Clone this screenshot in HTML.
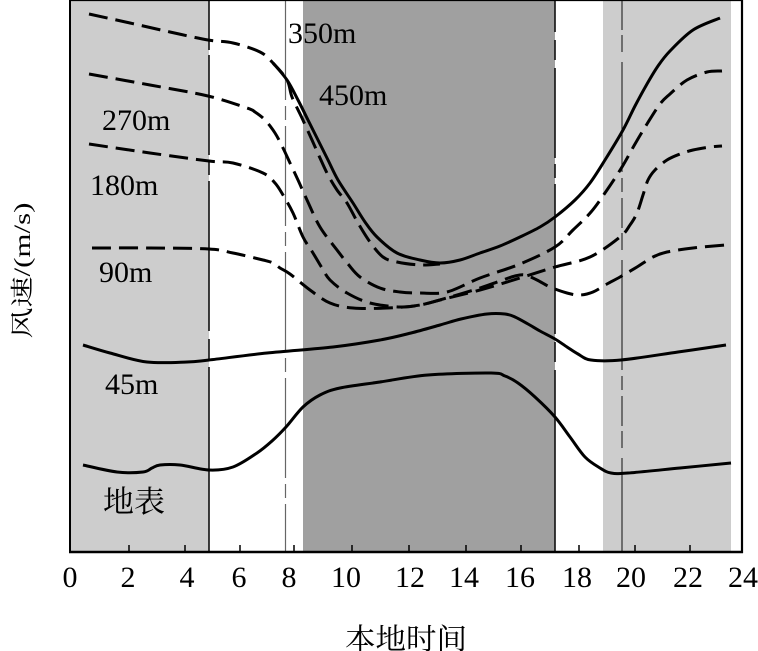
<!DOCTYPE html>
<html>
<head>
<meta charset="utf-8">
<style>
  html,body{margin:0;padding:0;background:#fff;}
  svg{display:block;}
  .lab{font-family:"Liberation Serif","Noto Serif CJK SC",serif;fill:#000;}
</style>
</head>
<body>
<svg id="chart" width="758" height="651" viewBox="0 0 758 651" xmlns="http://www.w3.org/2000/svg">
  <!-- background bands -->
  <rect x="0" y="0" width="758" height="651" fill="#fff"/>
  <rect x="70" y="0" width="139" height="552" fill="#cdcdcd"/>
  <rect x="303" y="0" width="252" height="552" fill="#a0a0a0"/>
  <rect x="603" y="0" width="128" height="552" fill="#cdcdcd"/>

  <!-- vertical dash-dot lines -->
  <line x1="209" y1="0" x2="209" y2="552" stroke="#111" stroke-width="1.6" stroke-dasharray="50 5 100 6 14 6 150 8 20 8 200"/>
  <line x1="555" y1="0" x2="555" y2="552" stroke="#111" stroke-width="1.6" stroke-dasharray="32 8 20 8 90 6 14 6 150 8 20 8 200"/>
  <line x1="285.5" y1="0" x2="285.5" y2="552" stroke="#666" stroke-width="1.2" stroke-dasharray="100 6 14 6"/>
  <line x1="622" y1="0" x2="622" y2="552" stroke="#222" stroke-width="1.1" stroke-dasharray="30 5 17 10 110 6 14 6"/>

  <g fill="none" stroke="#000" stroke-width="3" stroke-linejoin="round" stroke-linecap="butt">
    <!-- 350m dashed -->
    <polyline class="sm" stroke-dasharray="19 8" points="89,14 130,23 170,32 208,40 233,43 260,52 273,63 287,80 292,97 302,118 312,140 320,158 328,175 337,190 347,203 358,223 370,242 383,257 397,262 420,265 440,264"/>
    <!-- 450m solid -->
    <polyline class="sm" points="273,63 287,80 298,100 308,120 318,140 328,160 338,180 353,203 365,222 377,237 397,253 420,260 440,263 460,260 480,253 500,246 520,237 540,227 555,217 575,200 590,183 605,160 623,130 635,106 647,84 658,66 670,51 693,30 720,18"/>
    <!-- 270m dashed -->
    <polyline class="sm" stroke-dasharray="19 8" points="89,74 150,85 208,96 247,108 255,112 265,120 275,133 283,148 290,163 298,180 307,200 320,227 337,250 348,264 360,277 380,288 400,292 420,293 447,292 480,278 520,264 555,247 573,230 591,212 607,190 622,167 635,144 647,124 660,104 670,94 687,80 707,72 722,71"/>
    <!-- 180m dashed -->
    <polyline class="sm" stroke-dasharray="19 8" points="89,144 150,153 209,161 233,163 263,173 275,183 283,195 293,213 303,237 313,253 322,268 330,280 347,293 370,303 400,307 420,305 440,300 480,290 520,278 555,267 590,257 620,237 630,225 637,213 643,195 648,180 655,170 667,160 680,154 693,150 710,147 722,146"/>
    <!-- 90m dashed -->
    <polyline class="sm" stroke-dasharray="19 8" points="92,248 150,248 209,249 233,253 263,260 273,263 280,268 290,274 310,290 330,303 353,308 387,308 420,305 450,297 480,288 500,281 515,276 525,275 537,280 550,287 567,293 580,295 593,292 607,284 620,277 637,267 653,257 667,252 693,248 725,245"/>
    <!-- 45m solid -->
    <polyline class="sm" points="83,345 110,353 147,362 187,362 209,360 267,353 333,347 380,340 411,333 440,325 461,319 487,314 505,314 515,317 528,324 540,331 555,339 567,347 578,354 591,360 621,360 678,352 726,345"/>
    <!-- surface solid -->
    <polyline class="sm" points="83,465 117,472 143,472 152,468 160,465 180,465 209,470 233,467 257,453 272,441 286,427 303,407 320,395 340,388 380,382 428,375 491,373 505,376 518,383 535,397 555,417 570,437 585,457 600,468 611,473 628,473 680,468 731,463"/>
  </g>

  <!-- frame -->
  <line x1="70" y1="0" x2="70" y2="553" stroke="#000" stroke-width="2"/>
  <line x1="69" y1="552" x2="743" y2="552" stroke="#000" stroke-width="2.5"/>
  <line x1="70" y1="0.5" x2="742" y2="0.5" stroke="#000" stroke-width="1.2"/>
  <line x1="742" y1="0" x2="742" y2="553" stroke="#000" stroke-width="2.2"/>

  <!-- ticks -->
  <g stroke="#000" stroke-width="1.5">
    <line x1="129" y1="545" x2="129" y2="552"/>
    <line x1="185" y1="545" x2="185" y2="552"/>
    <line x1="240" y1="545" x2="240" y2="552"/>
    <line x1="294" y1="545" x2="294" y2="552"/>
    <line x1="352" y1="545" x2="352" y2="552"/>
    <line x1="409" y1="545" x2="409" y2="552"/>
    <line x1="466" y1="545" x2="466" y2="552"/>
    <line x1="521" y1="545" x2="521" y2="552"/>
    <line x1="579" y1="545" x2="579" y2="552"/>
    <line x1="635" y1="545" x2="635" y2="552"/>
    <line x1="690" y1="545" x2="690" y2="552"/>
  </g>

  <!-- tick labels -->
  <g class="lab" font-size="30" text-anchor="middle">
    <text x="70" y="587">0</text>
    <text x="128" y="587">2</text>
    <text x="187" y="587">4</text>
    <text x="239" y="587">6</text>
    <text x="289" y="587">8</text>
    <text x="346" y="587">10</text>
    <text x="410" y="587">12</text>
    <text x="464" y="587">14</text>
    <text x="520" y="587">16</text>
    <text x="577" y="587">18</text>
    <text x="631" y="587">20</text>
    <text x="688" y="587">22</text>
    <text x="743" y="587">24</text>
  </g>

  <!-- series labels -->
  <g class="lab" font-size="30">
    <text x="288" y="43">350m</text>
    <text x="319" y="105">450m</text>
    <text x="102" y="130">270m</text>
    <text x="90" y="195">180m</text>
    <text x="99" y="282">90m</text>
    <text x="105" y="394">45m</text>
    <text x="103" y="512" font-family="'Noto Serif CJK SC','Noto Sans CJK SC',serif" textLength="62" lengthAdjust="spacingAndGlyphs">地表</text>
  </g>

  <!-- axis titles -->
  <text class="lab" x="345" y="649" font-size="29" font-family="'Noto Serif CJK SC','Noto Sans CJK SC',serif" textLength="122" lengthAdjust="spacingAndGlyphs">本地时间</text>
  <text class="lab" transform="translate(30,270.5) rotate(-90)" x="-68" y="0" font-size="23" textLength="136" lengthAdjust="spacingAndGlyphs">风速/(m/s)</text>
</svg>
<script>
(function(){
  var NS = "http://www.w3.org/2000/svg";
  var pls = document.querySelectorAll("polyline.sm");
  for (var i = 0; i < pls.length; i++) {
    var pl = pls[i];
    var raw = pl.getAttribute("points").trim().split(/\s+/);
    var p = raw.map(function(s){ var a = s.split(","); return [parseFloat(a[0]), parseFloat(a[1])]; });
    if (p.length < 3) continue;
    var d = "M" + p[0][0] + "," + p[0][1];
    for (var k = 0; k < p.length - 1; k++) {
      var p0 = p[k > 0 ? k - 1 : 0], p1 = p[k], p2 = p[k + 1], p3 = p[k + 2 < p.length ? k + 2 : p.length - 1];
      var c1x = p1[0] + (p2[0] - p0[0]) / 6, c1y = p1[1] + (p2[1] - p0[1]) / 6;
      var c2x = p2[0] - (p3[0] - p1[0]) / 6, c2y = p2[1] - (p3[1] - p1[1]) / 6;
      d += " C" + c1x.toFixed(2) + "," + c1y.toFixed(2) + " " + c2x.toFixed(2) + "," + c2y.toFixed(2) + " " + p2[0] + "," + p2[1];
    }
    var path = document.createElementNS(NS, "path");
    path.setAttribute("d", d);
    var da = pl.getAttribute("stroke-dasharray");
    if (da) path.setAttribute("stroke-dasharray", da);
    pl.parentNode.replaceChild(path, pl);
  }
})();
</script>
</body>
</html>
